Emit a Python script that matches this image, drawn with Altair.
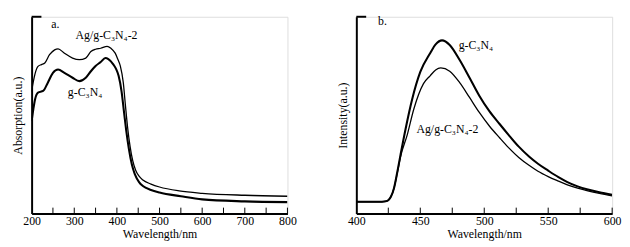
import altair as alt
import pandas as pd

# ---------- Panel a: UV-vis absorption ----------
abs_ag_wl = [200, 204, 208, 215, 223, 231, 242, 254, 262, 277, 296, 312, 327, 339, 350, 362, 377, 386, 396, 402, 408, 415, 420, 425, 431, 437, 444, 452, 461, 480, 500, 546, 600, 700, 800]
abs_ag_val = [62, 67, 71, 74.8, 75.7, 76.5, 80.7, 83.2, 83.7, 81.5, 79, 78.2, 79, 82.3, 83.5, 84, 85, 84, 81.5, 78.5, 75, 66.5, 55, 44, 34, 27, 22, 19, 17, 15, 13.5, 11.5, 10.3, 9.3, 8.8]

abs_g_wl = [200, 204, 208, 215, 227, 238, 250, 262, 277, 296, 312, 327, 339, 350, 362, 373, 380, 392, 398, 404, 411, 417, 422, 428, 435, 442, 452, 461, 480, 500, 550, 600, 700, 800]
abs_g_val = [47, 53, 58, 61.5, 62.3, 66.5, 71.5, 73.2, 71.5, 69, 67.3, 69, 72.3, 75, 77, 79, 78.5, 75.7, 73.5, 70, 62, 51, 42, 33, 25, 20, 16, 14, 12, 10.7, 8.8, 7.2, 6.2, 5.8]

# ---------- Panel b: PL intensity ----------
pl_g_wl = [400, 410, 420, 423, 425, 427, 429.5, 432, 434.6, 438.5, 443.6, 450, 457.7, 462, 467, 473, 480.8, 488.5, 496, 504, 512, 519, 527, 535, 542, 550, 558, 565, 573, 581, 590, 600]
pl_g_val = [6, 6, 6, 6.2, 6.8, 8.5, 13, 21, 30, 43, 58, 72, 81.5, 86, 88, 85.7, 78, 69, 60, 52, 45.5, 40, 34, 29, 25.3, 21.8, 18.5, 16, 13.8, 12.2, 10.8, 9.6]

pl_ag_wl = [400, 410, 420, 423, 425, 427, 429.5, 432, 434.6, 439.8, 444.9, 452.5, 457.7, 462, 466, 473, 480.8, 488.5, 496, 504, 512, 519, 527, 535, 542, 550, 558, 565, 573, 581, 590, 600]
pl_ag_val = [6, 6, 6, 6.2, 6.8, 8.5, 13, 20.5, 29, 40, 53, 66, 70, 73, 74, 72.3, 66.5, 59, 51.5, 44.5, 38.5, 33.5, 28.5, 24.5, 21.5, 18.8, 16.5, 14.6, 12.9, 11.5, 10.2, 9]

FONT = "Liberation Serif"


def series_df(wl, val, name):
    return pd.DataFrame({"wl": wl, "val": val, "s": name})


def panel(lines, xdom, xlabels, tick_step, stub, ytitle, texts):
    xs = alt.Scale(domain=xdom, nice=False, zero=False)
    ys = alt.Scale(domain=[0, 100], nice=False, zero=False)
    layers = []
    for df, w in lines:
        layers.append(
            alt.Chart(df).mark_line(color="black", strokeWidth=w, interpolate="monotone", clip=True).encode(
                x=alt.X("wl:Q", scale=xs,
                        axis=alt.Axis(values=xlabels, ticks=False, grid=False, domainColor="black",
                                      domainWidth=2, labelFont=FONT, labelFontSize=12, labelColor="black",
                                      labelPadding=2, labelFlush=False, labelOverlap=False,
                                      title="Wavelength/nm", titleFont=FONT,
                                      titleFontSize=12, titleFontWeight="normal", titleColor="black",
                                      titlePadding=2)),
                y=alt.Y("val:Q", scale=ys,
                        axis=alt.Axis(ticks=False, labels=False, grid=False, domainColor="black",
                                      domainWidth=2, title=ytitle, titleFont=FONT, titleFontSize=12,
                                      titleFontWeight="normal", titleColor="black", titlePadding=7)),
            )
        )
    # inward ticks on x axis
    tvals = list(range(xdom[0] + tick_step, xdom[1] + 1, tick_step))
    tick_df = pd.DataFrame({"wl": tvals, "y0": [0] * len(tvals), "y1": [3] * len(tvals)})
    layers.append(
        alt.Chart(tick_df).mark_rule(color="black", strokeWidth=1).encode(
            x=alt.X("wl:Q", scale=xs), y=alt.Y("y0:Q", scale=ys), y2="y1:Q"
        )
    )
    # top stub on y axis
    stub_df = pd.DataFrame({"x0": [xdom[0]], "x1": [xdom[0] + stub], "y": [100]})
    layers.append(
        alt.Chart(stub_df).mark_rule(color="black", strokeWidth=2).encode(
            x=alt.X("x0:Q", scale=xs), x2="x1:Q", y=alt.Y("y:Q", scale=ys)
        )
    )
    tdf = pd.DataFrame(texts, columns=["wl", "val", "label"])
    layers.append(
        alt.Chart(tdf).mark_text(font=FONT, fontSize=12, align="left", baseline="middle", color="black").encode(
            x=alt.X("wl:Q", scale=xs), y=alt.Y("val:Q", scale=ys), text="label:N"
        )
    )
    return alt.layer(*layers).properties(width=260, height=200)


panel_a = panel(
    [(series_df(abs_ag_wl, abs_ag_val, "Ag/g-C3N4-2"), 1.3),
     (series_df(abs_g_wl, abs_g_val, "g-C3N4"), 2.1)],
    [200, 800], [200, 300, 400, 500, 600, 700, 800], 50, 23, "Absorption(a.u.)",
    [(246, 96.5, "a."), (303, 90.5, "Ag/g-C₃N₄-2"), (285, 61.5, "g-C₃N₄")],
)

panel_b = panel(
    [(series_df(pl_ag_wl, pl_ag_val, "Ag/g-C3N4-2"), 1.3),
     (series_df(pl_g_wl, pl_g_val, "g-C3N4"), 2.1)],
    [400, 600], [400, 450, 500, 550, 600], 25, 7.7, "Intensity(a.u.)",
    [(417, 98, "b."), (480, 85.5, "g-C₃N₄"), (447, 43, "Ag/g-C₃N₄-2")],
)

chart = alt.hconcat(panel_a, panel_b, spacing=39).properties(
    padding={"left": 3, "top": 4, "right": 0, "bottom": 0}
).configure_view(stroke=None).configure(background="white", font=FONT)

chart.save("out.html", embed_options={"renderer": "svg", "actions": False})
